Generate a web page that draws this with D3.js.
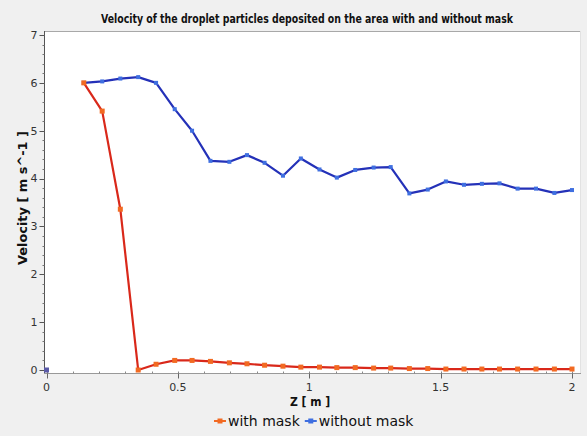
<!DOCTYPE html>
<meta charset="utf-8">
<title>Velocity of the droplet particles</title>
<script src="https://cdn.jsdelivr.net/npm/d3@7"></script>
<style>
  body { margin: 0; background: #f0f0f0; }
  svg { display: block; }
  .tick-label { font-family: "DejaVu Sans", sans-serif; font-size: 11px; fill: #333; }
  .bold { font-family: "DejaVu Sans Condensed", "DejaVu Sans", sans-serif; font-weight: bold; fill: #111; }
  .legend { font-family: "DejaVu Sans", sans-serif; font-size: 14px; fill: #111; }
</style>
<body>
<svg></svg>
<script>
var width = 587,
    height = 436;

// Z [m] positions of the samples
var zValues = [0.142, 0.212, 0.281, 0.349, 0.417, 0.488, 0.554, 0.624, 0.696, 0.763,
               0.830, 0.900, 0.968, 1.039, 1.105, 1.175, 1.245, 1.310, 1.381, 1.451,
               1.520, 1.589, 1.657, 1.724, 1.793, 1.863, 1.933, 2.000];

// velocity with mask
var withMask = [6.00, 5.41, 3.36, 0.00, 0.12, 0.20, 0.20, 0.18, 0.15, 0.13,
                0.10, 0.08, 0.06, 0.06, 0.05, 0.05, 0.04, 0.04, 0.03, 0.03,
                0.02, 0.02, 0.02, 0.02, 0.02, 0.02, 0.02, 0.02];

// velocity without mask
var withoutMask = [6.00, 6.03, 6.09, 6.12, 6.00, 5.45, 5.00, 4.37, 4.35, 4.49,
                   4.33, 4.06, 4.42, 4.19, 4.02, 4.18, 4.23, 4.24, 3.69, 3.77,
                   3.94, 3.87, 3.89, 3.90, 3.79, 3.79, 3.70, 3.76];

// lone point of the "without mask" series at the origin
var strayPoint = [[0, 0]];

var xTicks = [0, 0.5, 1, 1.5, 2];
var yTicks = [0, 1, 2, 3, 4, 5, 6, 7];

var plot = { left: 44, right: 581, top: 31, bottom: 374 };

var x = d3.scaleLinear().domain([0, 2]).range([46.5, 572]);
var y = d3.scaleLinear().domain([0, 7]).range([370, 35]);

var svg = d3.select("svg")
    .attr("width", width)
    .attr("height", height);

svg.append("rect")
    .attr("width", width).attr("height", height)
    .attr("fill", "#f0f0f0");

svg.append("rect")
    .attr("x", plot.left).attr("y", plot.top)
    .attr("width", plot.right - plot.left).attr("height", plot.bottom - plot.top)
    .attr("fill", "#fff");

// frame
svg.append("line")
    .attr("x1", plot.left).attr("x2", plot.right)
    .attr("y1", plot.top + 0.5).attr("y2", plot.top + 0.5)
    .attr("stroke", "#a8a8a8");
svg.append("line")
    .attr("x1", plot.right - 0.5).attr("x2", plot.right - 0.5)
    .attr("y1", plot.top).attr("y2", plot.bottom)
    .attr("stroke", "#e2e2e2");

// y axis
var yAxis = svg.append("g").attr("transform", "translate(" + (plot.left + 0.5) + ",0)");
yAxis.append("line")
    .attr("y1", plot.top).attr("y2", plot.bottom)
    .attr("stroke", "#555");
yAxis.selectAll(".minor")
    .data(d3.range(0, 7.01, 0.2))
    .enter().append("line")
    .attr("x1", -2).attr("x2", 0)
    .attr("y1", function(d) { return Math.round(y(d)) + 0.5; })
    .attr("y2", function(d) { return Math.round(y(d)) + 0.5; })
    .attr("stroke", "#777");
yAxis.selectAll(".major")
    .data(yTicks)
    .enter().append("line")
    .attr("x1", -5).attr("x2", 0)
    .attr("y1", function(d) { return Math.round(y(d)) + 0.5; })
    .attr("y2", function(d) { return Math.round(y(d)) + 0.5; })
    .attr("stroke", "#555");
yAxis.selectAll("text")
    .data(yTicks)
    .enter().append("text")
    .attr("class", "tick-label")
    .attr("x", -7)
    .attr("y", function(d) { return y(d); })
    .attr("dy", "0.35em")
    .attr("text-anchor", "end")
    .text(function(d) { return d; });

// x axis
var xAxis = svg.append("g").attr("transform", "translate(0," + (plot.bottom - 0.5) + ")");
xAxis.append("line")
    .attr("x1", plot.left).attr("x2", plot.right)
    .attr("stroke", "#999");
xAxis.selectAll(".minor")
    .data(d3.range(0, 2.01, 0.1))
    .enter().append("line")
    .attr("x1", function(d) { return Math.round(x(d)) + 0.5; })
    .attr("x2", function(d) { return Math.round(x(d)) + 0.5; })
    .attr("y1", -2).attr("y2", 0)
    .attr("stroke", "#888");
xAxis.selectAll(".major")
    .data(xTicks)
    .enter().append("line")
    .attr("x1", function(d) { return Math.round(x(d)) + 0.5; })
    .attr("x2", function(d) { return Math.round(x(d)) + 0.5; })
    .attr("y1", 0).attr("y2", 5)
    .attr("stroke", "#666");
xAxis.selectAll("text")
    .data(xTicks)
    .enter().append("text")
    .attr("class", "tick-label")
    .attr("x", function(d) { return x(d); })
    .attr("y", 17)
    .attr("text-anchor", "middle")
    .text(function(d) { return d; });

// titles
svg.append("text")
    .attr("class", "bold")
    .attr("x", 307).attr("y", 23)
    .attr("text-anchor", "middle")
    .style("font-size", "12px")
    .attr("textLength", 412).attr("lengthAdjust", "spacingAndGlyphs")
    .text("Velocity of the droplet particles deposited on the area with and without mask");

svg.append("text")
    .attr("class", "bold")
    .attr("transform", "translate(27,198) rotate(-90)")
    .attr("text-anchor", "middle")
    .style("font-size", "12px")
    .attr("textLength", 134).attr("lengthAdjust", "spacingAndGlyphs")
    .text("Velocity [ m s^-1 ]");

svg.append("text")
    .attr("class", "bold")
    .attr("x", 310).attr("y", 406)
    .attr("text-anchor", "middle")
    .style("font-size", "12px")
    .text("Z [ m ]");

// series
var series = [
  { name: "with mask", values: withMask, line: "#d9281a", marker: "#f26a22", size: 5 },
  { name: "without mask", values: withoutMask, line: "#2431b8", marker: "#3f6fe0", size: 4 }
];

var line = d3.line()
    .x(function(d) { return x(d[0]); })
    .y(function(d) { return y(d[1]); });

// draw blue first so the red line sits on top near the start
series.slice().reverse().forEach(function(s) {
  var pts = zValues.map(function(z, i) { return [z, s.values[i]]; });
  svg.append("path")
      .datum(pts)
      .attr("fill", "none")
      .attr("stroke", s.line)
      .attr("stroke-width", 2.2)
      .attr("stroke-linejoin", "round")
      .attr("d", line);
  svg.append("g").selectAll("rect")
      .data(pts)
      .enter().append("rect")
      .attr("x", function(d) { return x(d[0]) - s.size / 2; })
      .attr("y", function(d) { return y(d[1]) - s.size / 2; })
      .attr("width", s.size).attr("height", s.size)
      .attr("fill", s.marker);
});

svg.selectAll(".stray")
    .data(strayPoint)
    .enter().append("rect")
    .attr("x", function(d) { return x(d[0]) - 2.5; })
    .attr("y", function(d) { return y(d[1]) - 2.5; })
    .attr("width", 5).attr("height", 5)
    .attr("fill", "#5a5aa8");

// legend
var legend = svg.append("g").attr("transform", "translate(214,421)");
var lx = 0;
series.forEach(function(s) {
  var g = legend.append("g").attr("transform", "translate(" + lx + ",0)");
  g.append("line")
      .attr("x1", 0).attr("x2", 12)
      .attr("stroke", s.marker).attr("stroke-width", 2);
  g.append("rect")
      .attr("x", 3.5).attr("y", -2.5).attr("width", 5).attr("height", 5)
      .attr("fill", s.marker);
  var t = g.append("text")
      .attr("class", "legend")
      .attr("x", 14).attr("y", 5)
      .text(s.name);
  lx += 14 + t.node().getComputedTextLength() + 5;
});
</script>
</body>
